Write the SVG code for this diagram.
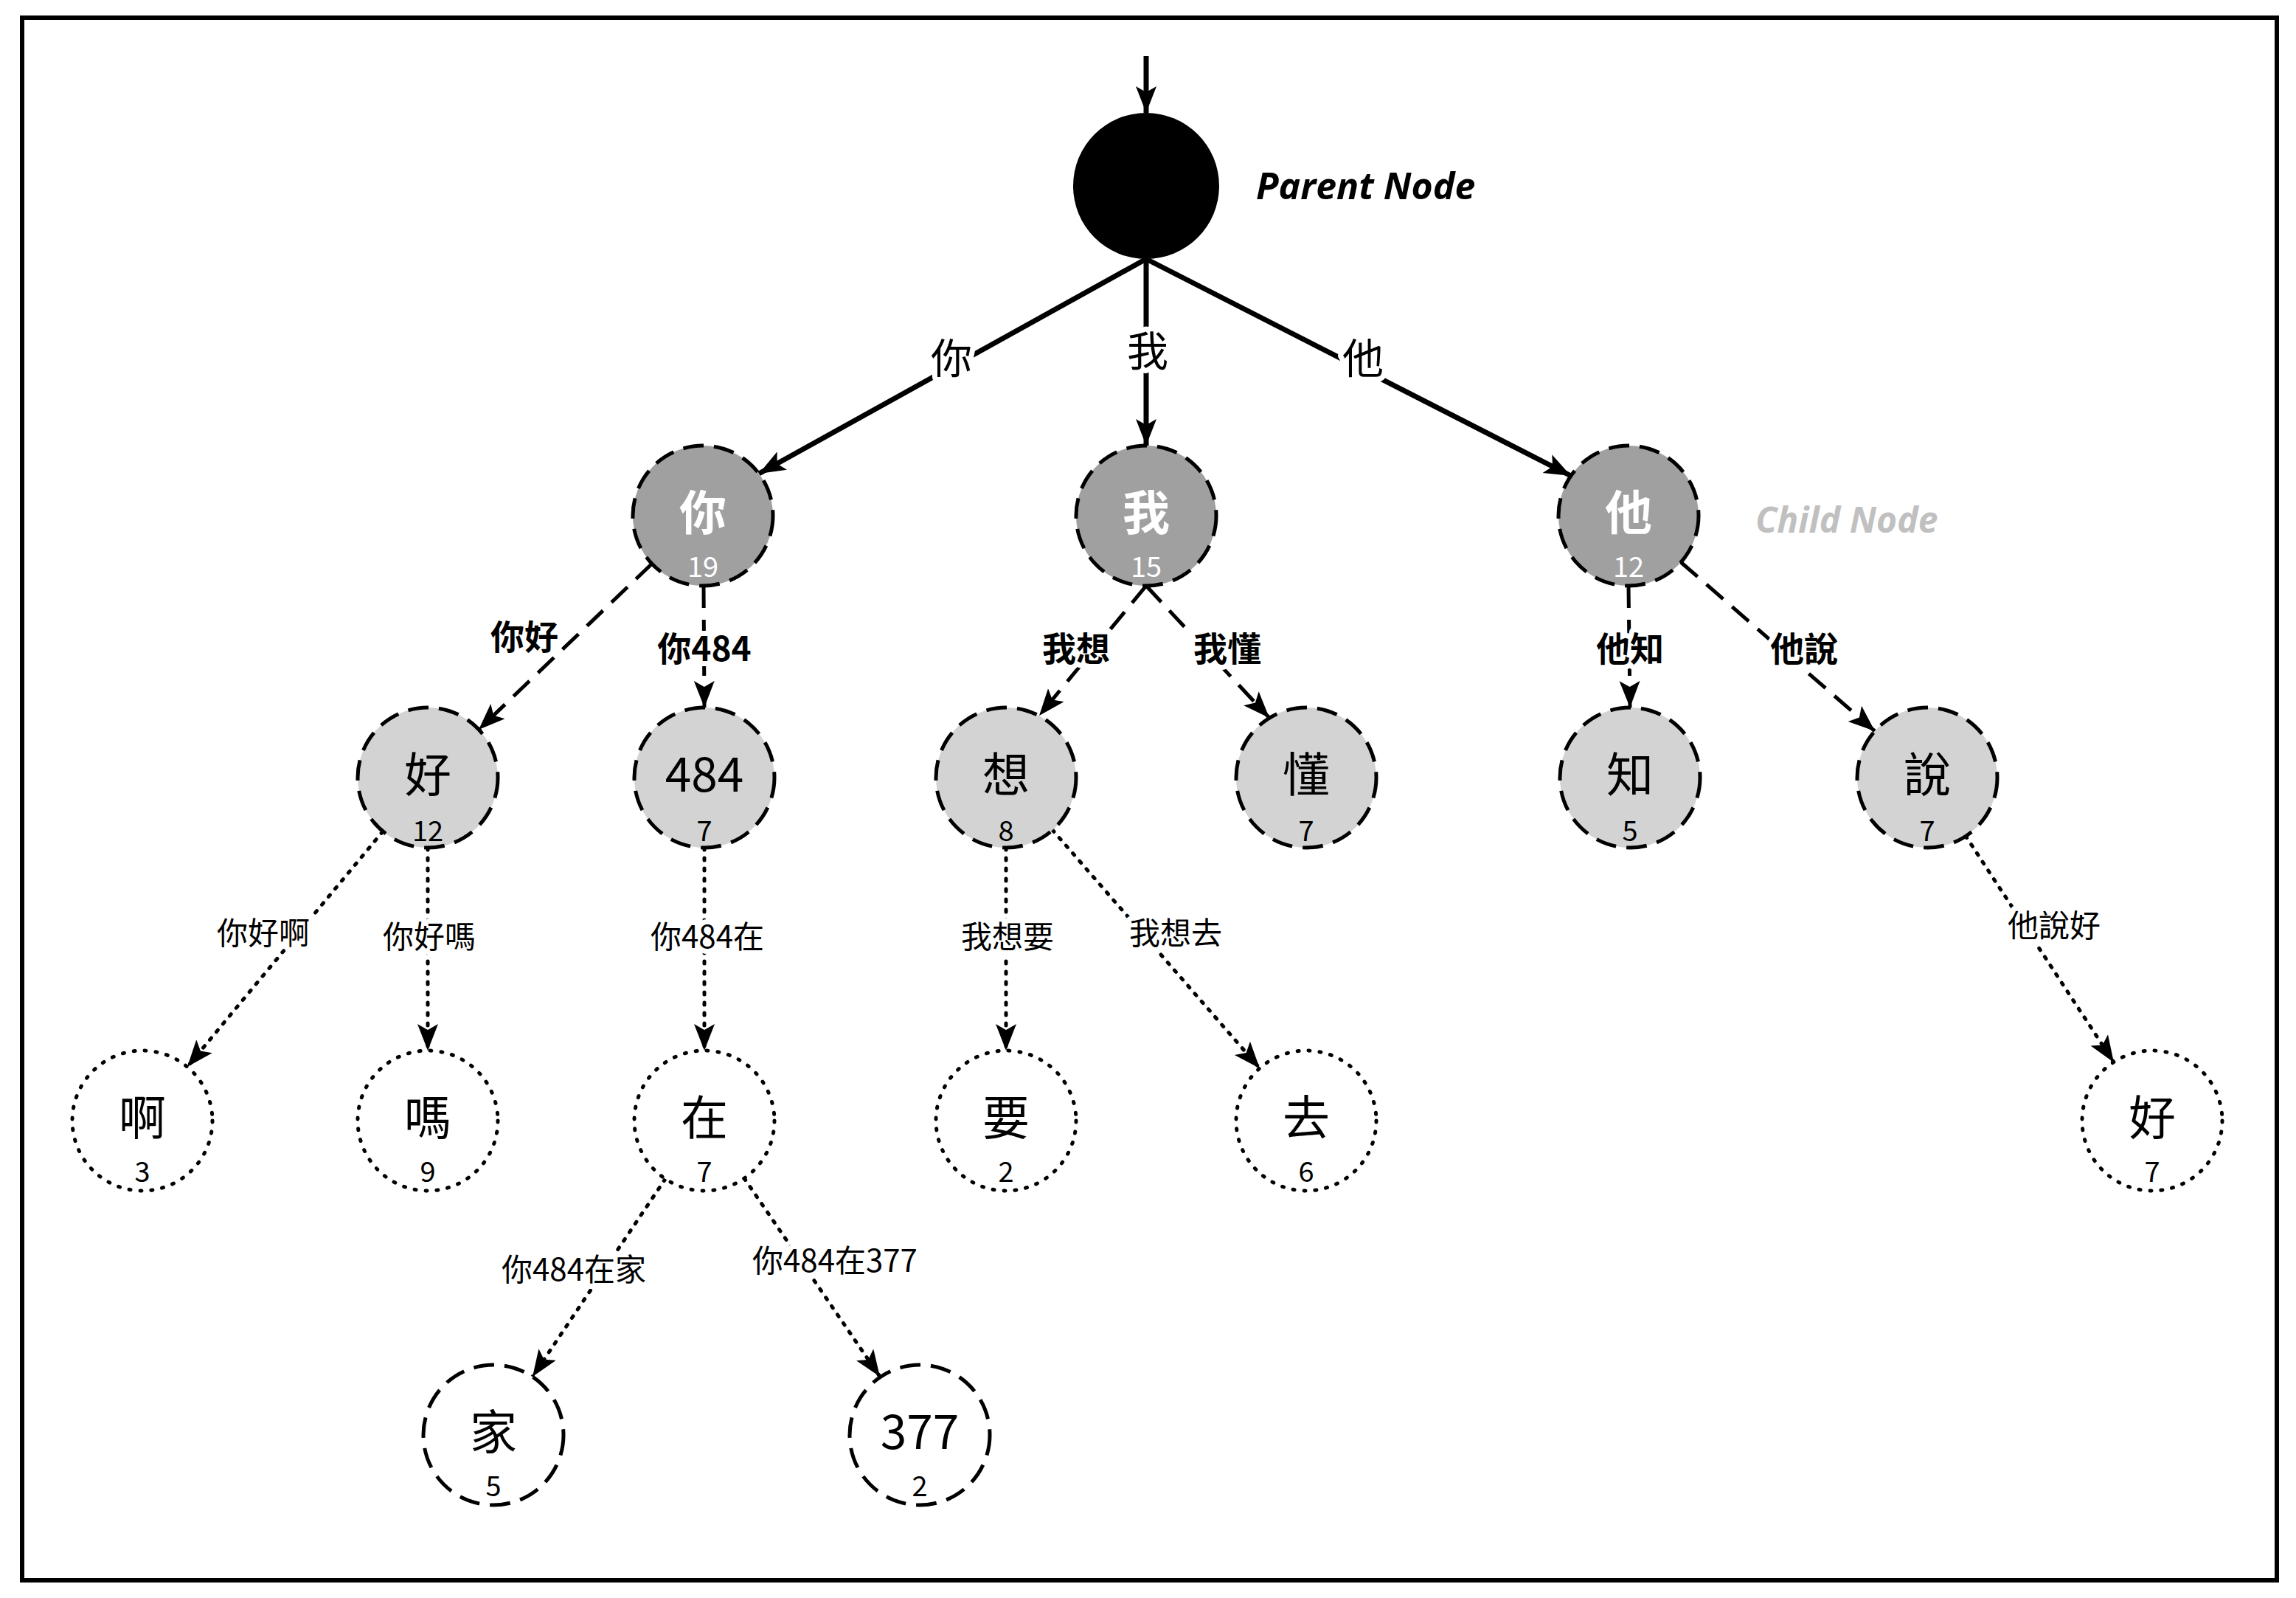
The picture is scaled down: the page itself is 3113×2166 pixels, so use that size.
<svg xmlns="http://www.w3.org/2000/svg" width="3113" height="2166" viewBox="0 0 3113 2166">
<style>
text{font-family:"Noto Sans CJK TC","Noto Sans",sans-serif;text-anchor:middle}
.e{stroke:#000;fill:none;stroke-width:7;marker-end:url(#ah)}
.dash{stroke-dasharray:30 16;stroke-width:5}
.dot{stroke-dasharray:3 11;stroke-linecap:round;stroke-width:5}
.lb{fill:#000;stroke:#fff;stroke-width:14;paint-order:stroke;stroke-linejoin:round}
.c1{fill:#a0a0a0;stroke:#000;stroke-width:5;stroke-dasharray:28 14}
.c2{fill:#d3d3d3;stroke:#000;stroke-width:5;stroke-dasharray:28 14}
.c3{fill:#fff;stroke:#000;stroke-width:5;stroke-dasharray:2 13;stroke-linecap:round}
.c4{fill:#fff;stroke:#000;stroke-width:5;stroke-dasharray:28 14}
.w{fill:#fff}
.big{font-size:64px}
.num{font-size:38px}
</style>
<defs>
<marker id="ah" markerUnits="userSpaceOnUse" markerWidth="38" markerHeight="30" refX="36" refY="14" orient="auto">
<path d="M0,0 L36,14 L0,28 L8,14 z" fill="#000"/>
</marker>
</defs>
<rect x="30" y="24" width="3057" height="2118" fill="#fff" stroke="#000" stroke-width="6"/>
<g id="connectors">
<line class="e" x1="1554" y1="76" x2="1554" y2="153"/>
<line class="e" x1="1554" y1="351" x2="1029" y2="642"/>
<line class="e" x1="1554" y1="351" x2="1554" y2="604"/>
<line class="e" x1="1554" y1="351" x2="2130" y2="645"/>
<line class="e dash" x1="884" y1="764" x2="649" y2="989"/>
<line class="e dash" x1="954" y1="794" x2="955" y2="959"/>
<line class="e dash" x1="1554" y1="794" x2="1409" y2="970"/>
<line class="e dash" x1="1554" y1="794" x2="1721" y2="973"/>
<line class="e dash" x1="2208" y1="794" x2="2210" y2="959"/>
<line class="e dash" x1="2279" y1="762" x2="2542" y2="991"/>
<line class="e dot" x1="519" y1="1127" x2="254" y2="1446"/>
<line class="e dot" x1="580" y1="1149" x2="580" y2="1424"/>
<line class="e dot" x1="955" y1="1149" x2="955" y2="1424"/>
<line class="e dot" x1="1364" y1="1149" x2="1364" y2="1424"/>
<line class="e dot" x1="1427" y1="1125" x2="1708" y2="1448"/>
<line class="e dot" x1="2665" y1="1133" x2="2866" y2="1440"/>
<line class="e dot" x1="902" y1="1598" x2="722" y2="1866"/>
<line class="e dot" x1="1009" y1="1597" x2="1193" y2="1866"/>
<g font-size="56">
<text class="lb" x="1290" y="506">你</text>
<text class="lb" x="1556" y="496">我</text>
<text class="lb" x="1848" y="506">他</text>
</g>
<g font-size="46" font-weight="bold">
<text class="lb" x="711" y="880">你好</text>
<text class="lb" x="955" y="896">你484</text>
<text class="lb" x="1459" y="896">我想</text>
<text class="lb" x="1664" y="896">我懂</text>
<text class="lb" x="2210" y="896">他知</text>
<text class="lb" x="2446" y="896">他說</text>
</g>
<g font-size="42">
<text class="lb" x="357" y="1280">你好啊</text>
<text class="lb" x="582" y="1285">你好嗎</text>
<text class="lb" x="959" y="1285">你484在</text>
<text class="lb" x="1366" y="1285">我想要</text>
<text class="lb" x="1594" y="1280">我想去</text>
<text class="lb" x="2785" y="1270">他說好</text>
<text class="lb" x="778" y="1736">你484在家</text>
<text class="lb" x="1132" y="1724">你484在377</text>
</g>
</g>
<g id="root"><circle cx="1554" cy="252" r="99" fill="#000"/>
<text x="1703" y="270" font-size="50" font-weight="bold" font-style="italic" style="text-anchor:start;font-family:'Open Sans','Noto Sans',sans-serif">Parent Node</text></g>
<g id="n-ni"><circle class="c1" cx="953" cy="699" r="95"/><text class="big w" font-weight="bold" x="953" y="718">你</text><text class="num w" x="953" y="782">19</text></g>
<g id="n-wo"><circle class="c1" cx="1554" cy="699" r="95"/><text class="big w" font-weight="bold" x="1554" y="718">我</text><text class="num w" x="1554" y="782">15</text></g>
<g id="n-ta"><circle class="c1" cx="2208" cy="699" r="95"/><text class="big w" font-weight="bold" x="2208" y="718">他</text><text class="num w" x="2208" y="782">12</text></g>
<text x="2380" y="722" font-size="48" font-weight="bold" font-style="italic" fill="#c0c0c0" style="text-anchor:start;font-family:'Open Sans','Noto Sans',sans-serif">Child Node</text>
<g id="n-hao"><circle class="c2" cx="580" cy="1054" r="95"/><text class="big" x="580" y="1073">好</text><text class="num" x="580" y="1140">12</text></g>
<g id="n-484"><circle class="c2" cx="955" cy="1054" r="95"/><text class="big" x="955" y="1073">484</text><text class="num" x="955" y="1140">7</text></g>
<g id="n-xiang"><circle class="c2" cx="1364" cy="1054" r="95"/><text class="big" x="1364" y="1073">想</text><text class="num" x="1364" y="1140">8</text></g>
<g id="n-dong"><circle class="c2" cx="1771" cy="1054" r="95"/><text class="big" x="1771" y="1073">懂</text><text class="num" x="1771" y="1140">7</text></g>
<g id="n-zhi"><circle class="c2" cx="2210" cy="1054" r="95"/><text class="big" x="2210" y="1073">知</text><text class="num" x="2210" y="1140">5</text></g>
<g id="n-shuo"><circle class="c2" cx="2613" cy="1054" r="95"/><text class="big" x="2613" y="1073">說</text><text class="num" x="2613" y="1140">7</text></g>
<g id="n-a"><circle class="c3" cx="193" cy="1519" r="95"/><text class="big" x="193" y="1538">啊</text><text class="num" x="193" y="1602">3</text></g>
<g id="n-ma"><circle class="c3" cx="580" cy="1519" r="95"/><text class="big" x="580" y="1538">嗎</text><text class="num" x="580" y="1602">9</text></g>
<g id="n-zai"><circle class="c3" cx="955" cy="1519" r="95"/><text class="big" x="955" y="1538">在</text><text class="num" x="955" y="1602">7</text></g>
<g id="n-yao"><circle class="c3" cx="1364" cy="1519" r="95"/><text class="big" x="1364" y="1538">要</text><text class="num" x="1364" y="1602">2</text></g>
<g id="n-qu"><circle class="c3" cx="1771" cy="1519" r="95"/><text class="big" x="1771" y="1538">去</text><text class="num" x="1771" y="1602">6</text></g>
<g id="n-hao2"><circle class="c3" cx="2918" cy="1519" r="95"/><text class="big" x="2918" y="1538">好</text><text class="num" x="2918" y="1602">7</text></g>
<g id="n-jia"><circle class="c4" cx="669" cy="1945" r="95"/><text class="big" x="669" y="1964">家</text><text class="num" x="669" y="2028">5</text></g>
<g id="n-377"><circle class="c4" cx="1247" cy="1945" r="95"/><text class="big" x="1247" y="1964">377</text><text class="num" x="1247" y="2028">2</text></g>
</svg>
